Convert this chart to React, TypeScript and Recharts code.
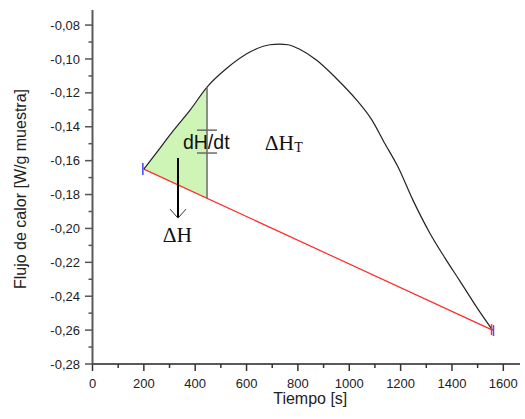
import React from 'react';
import { ComposedChart, Line, Area, XAxis, YAxis, ReferenceLine, ReferenceDot } from 'recharts';

// Heat-flow curve (time in s, flux in W/g)
const curveTime = [200, 263, 313, 380, 446, 523, 613, 691, 727, 762, 807, 872, 950, 1029, 1086, 1139, 1190, 1248, 1314, 1373, 1430, 1496, 1558];
const curveFlux = [-0.165, -0.1526, -0.1426, -0.1302, -0.1166, -0.1055, -0.0959, -0.0916, -0.0912, -0.0916, -0.0943, -0.1006, -0.1115, -0.1243, -0.1355, -0.15, -0.1638, -0.1833, -0.2028, -0.2175, -0.2308, -0.2464, -0.26];

// Baseline (red)
const baselineTime = [200, 1558];
const baselineFlux = [-0.165, -0.26];

// Shaded partial-area region
const shadedTime = [200, 263, 313, 380, 446];
const shadedLow = [-0.165, -0.1694, -0.1729, -0.1776, -0.182];
const shadedHigh = [-0.165, -0.1526, -0.1426, -0.1302, -0.1166];

// Annotation anchors (data coordinates)
const cutTime = 446;
const cutTop = -0.1166;
const cutBottom = -0.182;
const capLevels = [-0.142, -0.1555];
const capSpan = [407, 485];
const arrowTime = 333;
const arrowTop = -0.1585;
const arrowBottom = -0.1939;
const dhdtLabel = { t: 443, v: -0.1532, text: 'dH/dt' };
const dhLabel = { t: 331, v: -0.2078, text: 'ΔH' };
const dhtLabel = { t: 671, v: -0.1537, text: 'ΔH', sub: 'T' };

const xTicks = [0, 100, 200, 300, 400, 500, 600, 700, 800, 900, 1000, 1100, 1200, 1300, 1400, 1500, 1600];
const yTicks = [-0.28, -0.27, -0.26, -0.25, -0.24, -0.23, -0.22, -0.21, -0.2, -0.19, -0.18, -0.17, -0.16, -0.15, -0.14, -0.13, -0.12, -0.11, -0.1, -0.09, -0.08];

const curveData = curveTime.map((t, i) => ({ t, v: curveFlux[i] }));
const baselineData = baselineTime.map((t, i) => ({ t, v: baselineFlux[i] }));
const shadedData = shadedTime.map((t, i) => ({ t, range: [shadedLow[i], shadedHigh[i]] }));

const SANS = '"Liberation Sans", Arial, sans-serif';
const SERIF = '"Liberation Serif", "Times New Roman", serif';

const XTick = (props: any) => {
  const { x, y, payload } = props;
  const v = payload.value;
  const major = Math.round(v) % 200 === 0;
  return (
    <g>
      <line x1={x} x2={x} y1={y} y2={y + (major ? 7 : 4)} stroke="#333" strokeWidth={1.5} />
      {major && (
        <text x={x} y={y + 24} textAnchor="middle" fontSize={13} fill="#222" fontFamily={SANS}>
          {v}
        </text>
      )}
    </g>
  );
};

const YTick = (props: any) => {
  const { x, y, payload } = props;
  const v = payload.value;
  const major = Math.abs(Math.round(v * 100)) % 2 === 0;
  return (
    <g>
      <line x1={x - (major ? 7.5 : 4)} x2={x} y1={y} y2={y} stroke="#555" strokeWidth={1.5} />
      {major && (
        <text x={x - 12.5} y={y + 4.6} textAnchor="end" fontSize={13} fill="#222" fontFamily={SANS}>
          {v.toFixed(2).replace('.', ',')}
        </text>
      )}
    </g>
  );
};

const XTitle = (props: any) => {
  const vb = props.viewBox;
  return (
    <text x={vb.x + vb.width / 2 + 4} y={vb.y + 40} textAnchor="middle" fontSize={16} fill="#222" fontFamily={SANS}>
      Tiempo [s]
    </text>
  );
};

const YTitle = (props: any) => {
  const vb = props.viewBox;
  const cx = vb.x + 26;
  const cy = vb.y + vb.height / 2 + 2;
  return (
    <text x={cx} y={cy} transform={`rotate(-90, ${cx}, ${cy})`} textAnchor="middle" fontSize={16} fill="#222" fontFamily={SANS}>
      Flujo de calor [W/g muestra]
    </text>
  );
};

export default function App() {
  return (
    <div style={{ position: 'absolute', left: 0, top: 0, background: '#fff' }}>
      <ComposedChart width={525} height={419} margin={{ top: 10, right: 5, bottom: 25, left: 0 }}>
        <XAxis
          dataKey="t"
          type="number"
          domain={[0, 1665]}
          ticks={xTicks}
          interval={0}
          tickSize={0}
          tickMargin={0}
          tickLine={false}
          tick={<XTick />}
          axisLine={{ stroke: '#222', strokeWidth: 1.5 }}
          height={30}
          label={{ value: 'Tiempo [s]', content: <XTitle /> }}
        />
        <YAxis
          type="number"
          domain={[-0.28, -0.0711]}
          ticks={yTicks}
          interval={0}
          tickSize={0}
          tickMargin={0}
          tickLine={false}
          tick={<YTick />}
          axisLine={{ stroke: '#5a5a5a', strokeWidth: 2 }}
          width={92.5}
          label={{ value: 'Flujo de calor [W/g muestra]', content: <YTitle /> }}
        />
        <Area
          data={shadedData}
          dataKey="range"
          type="monotone"
          stroke="none"
          fill="#cff5b6"
          fillOpacity={1}
          isAnimationActive={false}
        />
        <Line
          data={baselineData}
          dataKey="v"
          type="linear"
          stroke="#ff2a2a"
          strokeWidth={1.2}
          dot={false}
          isAnimationActive={false}
        />
        <Line
          data={curveData}
          dataKey="v"
          type="monotone"
          stroke="#222"
          strokeWidth={1.2}
          dot={false}
          isAnimationActive={false}
        />
        <ReferenceLine
          segment={[{ x: cutTime, y: cutTop }, { x: cutTime, y: cutBottom }]}
          stroke="#6a6a6a"
          strokeWidth={1.5}
        />
        {capLevels.map((lv) => (
          <ReferenceLine
            key={lv}
            segment={[{ x: capSpan[0], y: lv }, { x: capSpan[1], y: lv }]}
            stroke="#6a6a6a"
            strokeWidth={1.5}
          />
        ))}
        <ReferenceLine
          segment={[{ x: arrowTime, y: arrowTop }, { x: arrowTime, y: arrowBottom }]}
          stroke="#000"
          strokeWidth={2}
        />
        <ReferenceDot
          x={arrowTime}
          y={arrowBottom}
          r={0}
          shape={(p: any) => (
            <polyline
              points={`${p.cx - 8},${p.cy - 9} ${p.cx},${p.cy} ${p.cx + 8},${p.cy - 9}`}
              fill="none"
              stroke="#333"
              strokeWidth={1}
            />
          )}
        />
        <ReferenceDot
          x={baselineTime[0]}
          y={baselineFlux[0]}
          r={0}
          shape={(p: any) => (
            <line x1={p.cx - 1} x2={p.cx - 1} y1={p.cy - 6} y2={p.cy + 6} stroke="#4040ff" strokeWidth={1.5} />
          )}
        />
        <ReferenceDot
          x={baselineTime[1]}
          y={baselineFlux[1]}
          r={0}
          shape={(p: any) => (
            <g>
              <line x1={p.cx - 1} x2={p.cx - 1} y1={p.cy - 6} y2={p.cy + 5} stroke="#ff3030" strokeWidth={1.5} />
              <line x1={p.cx + 1} x2={p.cx + 1} y1={p.cy - 5} y2={p.cy + 6} stroke="#5050ff" strokeWidth={1.5} />
            </g>
          )}
        />
        <ReferenceDot
          x={dhdtLabel.t}
          y={dhdtLabel.v}
          r={0}
          shape={(p: any) => (
            <text x={p.cx} y={p.cy} textAnchor="middle" fontSize={19.5} fill="#111" fontFamily={SANS}>
              {dhdtLabel.text}
            </text>
          )}
        />
        <ReferenceDot
          x={dhLabel.t}
          y={dhLabel.v}
          r={0}
          shape={(p: any) => (
            <text x={p.cx} y={p.cy} textAnchor="middle" fontSize={21.5} fill="#111" fontFamily={SERIF}>
              {dhLabel.text}
            </text>
          )}
        />
        <ReferenceDot
          x={dhtLabel.t}
          y={dhtLabel.v}
          r={0}
          shape={(p: any) => (
            <text x={p.cx} y={p.cy} textAnchor="start" fontSize={21.5} fill="#111" fontFamily={SERIF}>
              {dhtLabel.text}
              <tspan fontSize={14} dy={2}>
                {dhtLabel.sub}
              </tspan>
            </text>
          )}
        />
      </ComposedChart>
    </div>
  );
}
